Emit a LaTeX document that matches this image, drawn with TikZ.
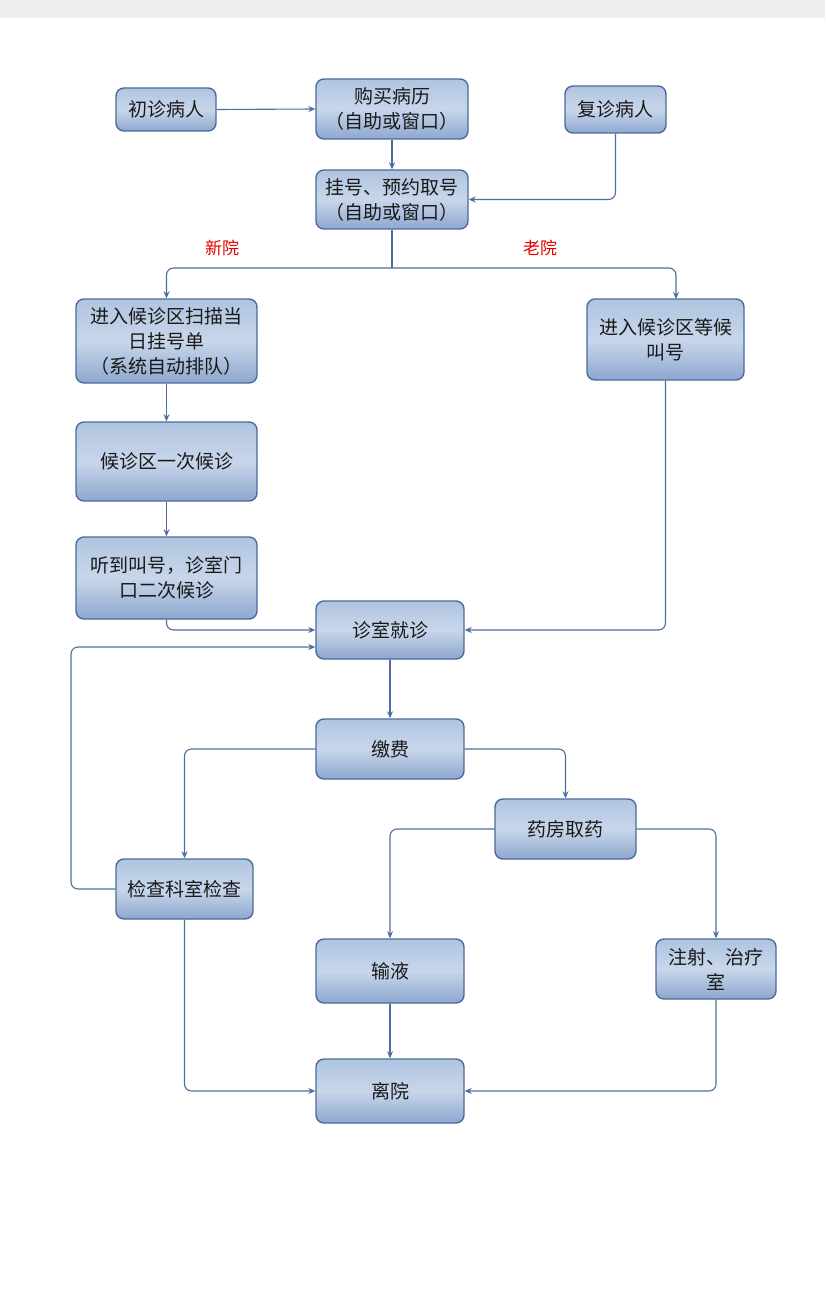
\documentclass[tikz,border=0pt]{standalone}
\usepackage{fontspec}
\newfontfamily\cjk{Noto Sans CJK SC}
\usetikzlibrary{arrows.meta,calc}
\definecolor{bandgray}{HTML}{EDEDEB}
\definecolor{boxtop}{HTML}{B0C4E0}
\definecolor{boxmid}{HTML}{C8D6EA}
\definecolor{boxbot}{HTML}{8EA7CF}
\definecolor{boxline}{HTML}{4A6B9B}
\definecolor{connline}{HTML}{4F6E9E}
\begin{document}
\begin{tikzpicture}[x=1pt,y=-1pt,
  box/.style={draw=boxline, line width=1.4pt, rounded corners=8pt,
    top color=boxtop, bottom color=boxbot, middle color=boxmid,
    font=\cjk\fontsize{19}{25}\selectfont, text=black!90, align=center, inner sep=0pt},
  conn/.style={draw=connline, line width=1.1pt, rounded corners=7pt,
    -{Stealth[length=7pt,width=6pt]}},
  plain/.style={draw=connline, line width=1.1pt, rounded corners=7pt},
  lbl/.style={font=\cjk\fontsize{17}{20}\selectfont, text=red!90!black}]
\useasboundingbox (0,0) rectangle (825,1289);
\fill[bandgray] (0,0) rectangle (825,18);

\node[box, minimum width=100pt, minimum height=43pt] (cz) at (166,109.5) {初诊病人};
\node[box, minimum width=152pt, minimum height=60pt] (gm) at (392,109) {购买病历\\（自助或窗口）};
\node[box, minimum width=101pt, minimum height=47pt] (fz) at (615.5,109.5) {复诊病人};
\node[box, minimum width=152pt, minimum height=59pt] (gh) at (392,199.5) {挂号、预约取号\\（自助或窗口）};
\node[box, minimum width=181pt, minimum height=84pt] (xy) at (166.5,341) {进入候诊区扫描当\\日挂号单\\（系统自动排队）};
\node[box, minimum width=157pt, minimum height=81pt] (lao) at (665.5,339.5) {进入候诊区等候\\叫号};
\node[box, minimum width=181pt, minimum height=79pt] (yc) at (166.5,461.5) {候诊区一次候诊};
\node[box, minimum width=181pt, minimum height=82pt] (td) at (166.5,578) {听到叫号，诊室门\\口二次候诊};
\node[box, minimum width=148pt, minimum height=58pt] (zs) at (390,630) {诊室就诊};
\node[box, minimum width=148pt, minimum height=60pt] (jf) at (390,749) {缴费};
\node[box, minimum width=141pt, minimum height=60pt] (yf) at (565.5,829) {药房取药};
\node[box, minimum width=137pt, minimum height=60pt] (jc) at (184.5,889) {检查科室检查};
\node[box, minimum width=148pt, minimum height=64pt] (sy) at (390,971) {输液};
\node[box, minimum width=120pt, minimum height=60pt] (zsh) at (716,969) {注射、治疗\\室};
\node[box, minimum width=148pt, minimum height=64pt] (ly) at (390,1091) {离院};

\node[lbl] (xinlbl) at (222,248) {新院};
\node[lbl] (laolbl) at (540,248) {老院};

\coordinate (split) at (392,268);
\coordinate (laoin) at (676,299);
\coordinate (zsin2) at ($(zs.west)+(0,17)$);
\coordinate (jcout) at (71,800);

\draw[conn] (cz.east) -- (gm.west);
\draw[conn] (gm.south) -- (gh.north);
\draw[conn] (fz.south) |- (gh.east);
\draw[plain] (gh.south) -- (split);
\draw[conn] (split) -| (xy.north);
\draw[conn] (split) -| (laoin);
\draw[conn] (xy.south) -- (yc.north);
\draw[conn] (yc.south) -- (td.north);
\draw[conn] (td.south) |- (zs.west);
\draw[conn] (lao.south) |- (zs.east);
\draw[conn] (jc.west) -| (jcout) |- (zsin2);
\draw[conn] (zs.south) -- (jf.north);
\draw[conn] (jf.west) -| (jc.north);
\draw[conn] (jf.east) -| (yf.north);
\draw[conn] (yf.west) -| (sy.north);
\draw[conn] (yf.east) -| (zsh.north);
\draw[conn] (jc.south) |- (ly.west);
\draw[conn] (sy.south) -- (ly.north);
\draw[conn] (zsh.south) |- (ly.east);
\end{tikzpicture}
\end{document}
